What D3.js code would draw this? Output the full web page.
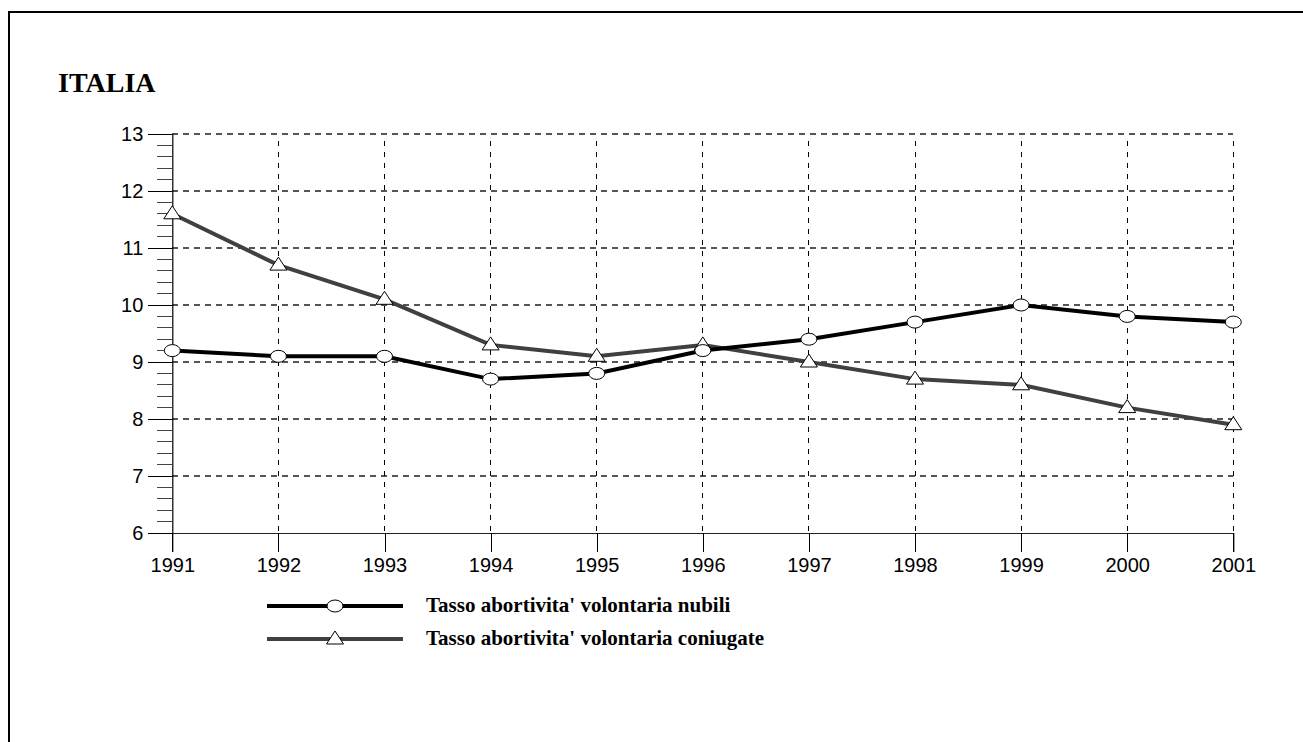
<!DOCTYPE html>
<html>
<head>
<meta charset="utf-8">
<script src="https://cdn.jsdelivr.net/npm/d3@7"></script>
<style>
  html, body { margin: 0; padding: 0; background: #fff; }
  svg { display: block; }
</style>
</head>
<body>
<svg id="chart" width="1303" height="742"></svg>
<script>
const years = [1991, 1992, 1993, 1994, 1995, 1996, 1997, 1998, 1999, 2000, 2001];
const nubili = [9.2, 9.1, 9.1, 8.7, 8.8, 9.2, 9.4, 9.7, 10.0, 9.8, 9.7];
const coniugate = [11.6, 10.7, 10.1, 9.3, 9.1, 9.3, 9.0, 8.7, 8.6, 8.2, 7.9];
const yTicks = [6, 7, 8, 9, 10, 11, 12, 13];
const seriesNames = ["Tasso abortivita' volontaria nubili", "Tasso abortivita' volontaria coniugate"];
const title = "ITALIA";

const svg = d3.select("#chart");

// frame
svg.append("rect").attr("x", 9).attr("y", 12).attr("width", 1400).attr("height", 800)
  .attr("fill", "none").attr("stroke", "#000").attr("stroke-width", 2);

svg.append("text").attr("x", 58).attr("y", 92)
  .attr("font-family", "Liberation Serif, Times New Roman, serif")
  .attr("font-weight", "bold").attr("font-size", 28).text(title);

const x = d3.scaleLinear().domain([1991, 2001]).range([172.3, 1233.3]);
const y = d3.scaleLinear().domain([6, 13]).range([533, 134]);

const g = svg.append("g");

// horizontal grid (dashed gray)
g.append("g").selectAll("line").data(yTicks.filter(d => d > 6)).join("line")
  .attr("x1", x(1991)).attr("x2", x(2001))
  .attr("y1", d => y(d)).attr("y2", d => y(d))
  .attr("stroke", "#555").attr("stroke-width", 1.2).attr("stroke-dasharray", "6,5")
  .attr("shape-rendering", "crispEdges");

// vertical grid (dashed black)
g.append("g").selectAll("line").data(years.slice(1)).join("line")
  .attr("x1", d => x(d)).attr("x2", d => x(d))
  .attr("y1", y(13) + 7).attr("y2", y(6))
  .attr("stroke", "#000").attr("stroke-width", 1).attr("stroke-dasharray", "5,6")
  .attr("shape-rendering", "crispEdges");

// y axis minor ticks
const minor = d3.range(6, 13.001, 0.2).filter(v => Math.abs(v - Math.round(v)) > 0.01);
g.append("g").selectAll("line").data(minor).join("line")
  .attr("x1", 157).attr("x2", x(1991))
  .attr("y1", d => y(d)).attr("y2", d => y(d))
  .attr("stroke", "#444").attr("stroke-width", 1).attr("shape-rendering", "crispEdges");

// y axis
const yAxis = d3.axisLeft(y).tickValues(yTicks).tickSize(24).tickPadding(5).tickFormat(d3.format("d"));
const yg = g.append("g").attr("transform", `translate(${x(1991)},0)`).call(yAxis);
yg.select(".domain").attr("stroke", "#000").attr("stroke-width", 1.2);
yg.selectAll(".tick line").attr("stroke", "#000").attr("stroke-width", 1).attr("shape-rendering", "crispEdges");
yg.selectAll(".tick text").attr("font-family", "Liberation Sans, Arial, sans-serif")
  .attr("font-size", 20).attr("fill", "#000");

// x axis
const xAxis = d3.axisBottom(x).tickValues(years).tickSize(19).tickPadding(6).tickFormat(d3.format("d"));
const xg = g.append("g").attr("transform", `translate(0,${y(6)})`).call(xAxis);
xg.select(".domain").attr("stroke", "#222").attr("stroke-width", 1.2);
xg.selectAll(".tick line").attr("stroke", "#000").attr("stroke-width", 1).attr("shape-rendering", "crispEdges");
xg.selectAll(".tick text").attr("font-family", "Liberation Sans, Arial, sans-serif")
  .attr("font-size", 20).attr("fill", "#000");

const line = d3.line().x((d, i) => x(years[i])).y(d => y(d));

// coniugate line (gray)
g.append("path").datum(coniugate).attr("d", line)
  .attr("fill", "none").attr("stroke", "#404040").attr("stroke-width", 4);
// nubili line (black)
g.append("path").datum(nubili).attr("d", line)
  .attr("fill", "none").attr("stroke", "#000").attr("stroke-width", 4);

const tri = (cx, cy) => `M${cx},${cy - 8}L${cx + 8.5},${cy + 5}L${cx - 8.5},${cy + 5}Z`;

g.append("g").selectAll("path").data(coniugate).join("path")
  .attr("d", (d, i) => tri(x(years[i]), y(d)))
  .attr("fill", "#fff").attr("stroke", "#000").attr("stroke-width", 1);

g.append("g").selectAll("ellipse").data(nubili).join("ellipse")
  .attr("cx", (d, i) => x(years[i])).attr("cy", d => y(d))
  .attr("rx", 8).attr("ry", 6)
  .attr("fill", "#fff").attr("stroke", "#000").attr("stroke-width", 1);

// legend
const legY = [606, 639];
const leg = svg.append("g");
leg.selectAll("line").data(seriesNames).join("line")
  .attr("x1", 267).attr("x2", 403)
  .attr("y1", (d, i) => legY[i]).attr("y2", (d, i) => legY[i])
  .attr("stroke", (d, i) => i === 0 ? "#000" : "#404040").attr("stroke-width", 4);
leg.append("ellipse").attr("cx", 335).attr("cy", legY[0]).attr("rx", 8).attr("ry", 6)
  .attr("fill", "#fff").attr("stroke", "#000");
leg.append("path").attr("d", tri(335, legY[1]))
  .attr("fill", "#fff").attr("stroke", "#000");
leg.selectAll("text").data(seriesNames).join("text")
  .attr("x", 426).attr("y", (d, i) => legY[i] + 6)
  .attr("font-family", "Liberation Serif, Times New Roman, serif")
  .attr("font-weight", "bold").attr("font-size", 21).text(d => d);
</script>
</body>
</html>
